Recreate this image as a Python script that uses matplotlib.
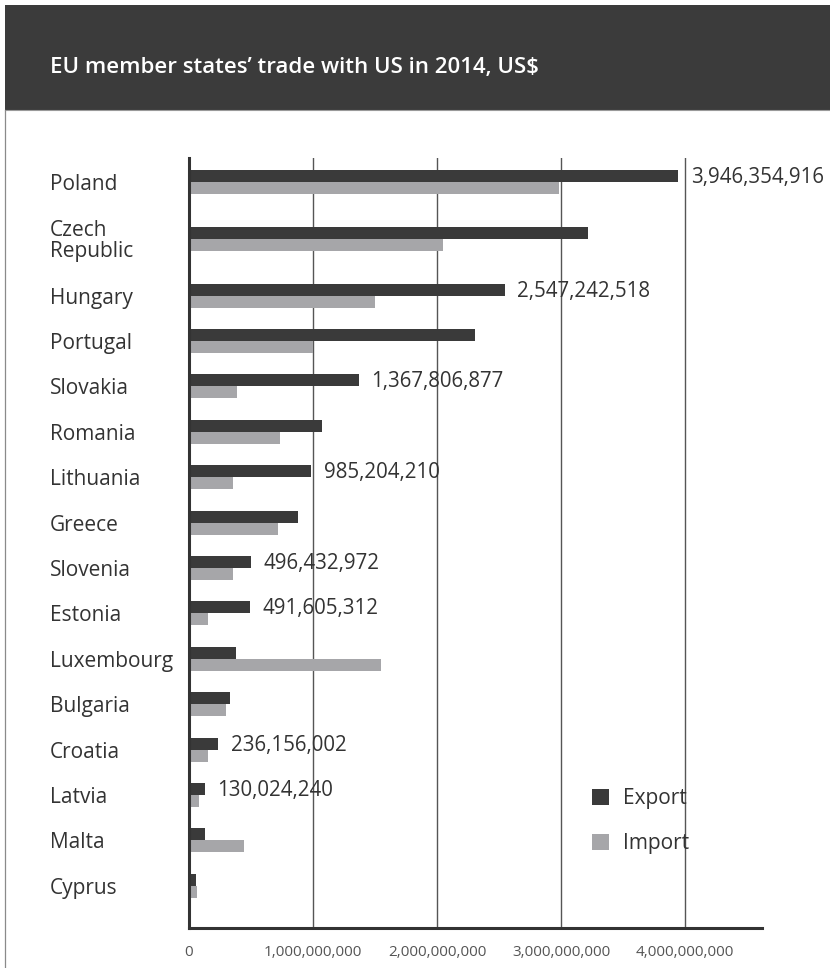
import matplotlib
matplotlib.use("Agg")
import matplotlib.pyplot as plt
import numpy as np
from matplotlib.patches import Rectangle
from matplotlib.lines import Line2D
from matplotlib.ticker import FuncFormatter, FixedLocator

# ---------------- data ----------------
countries = ["Poland", "Czech\nRepublic", "Hungary", "Portugal", "Slovakia",
             "Romania", "Lithuania", "Greece", "Slovenia", "Estonia",
             "Luxembourg", "Bulgaria", "Croatia", "Latvia", "Malta", "Cyprus"]
export_vals = [3946354916, 3.22e9, 2547242518, 2.31e9, 1367806877,
               1.07e9, 985204210, 0.88e9, 496432972, 491605312,
               0.38e9, 0.33e9, 236156002, 130024240, 0.13e9, 0.055e9]
import_vals = [2.98e9, 2.05e9, 1.50e9, 1.00e9, 0.39e9,
               0.73e9, 0.355e9, 0.72e9, 0.355e9, 0.15e9,
               1.55e9, 0.30e9, 0.15e9, 0.083e9, 0.44e9, 0.065e9]
show_label = [True, False, True, False, True, False, True, False,
              True, True, False, False, True, True, False, False]
x_ticks = [0, 1e9, 2e9, 3e9, 4e9]
title = "EU member states\u2019 trade with US in 2014, US$"
series_names = ["Export", "Import"]

# ---------------- style ----------------
FONT = "Open Sans"
DARK = "#3a3a3a"
LIGHT = "#a6a6a9"
TXT = "#333333"

W, H = 830, 968
fig = plt.figure(figsize=(W / 100, H / 100), dpi=100)
fig.patch.set_facecolor("white")

def fx(px):
    return px / W

def fy(py):
    return 1 - py / H

# header band
fig.patches.append(Rectangle((fx(5), fy(110)), 1 - fx(5), fy(5) - fy(110),
                             transform=fig.transFigure, facecolor="#3b3b3b",
                             edgecolor="none", zorder=0))
fig.lines.append(Line2D([fx(5), 1], [fy(110), fy(110)], transform=fig.transFigure,
                        color="#9a9a9a", lw=0.8))
fig.lines.append(Line2D([fx(5), fx(5)], [fy(110), 0], transform=fig.transFigure,
                        color="#8a8a8a", lw=0.9))
fig.text(fx(50), fy(68), title, color="white", fontsize=16, family=FONT,
         fontweight="semibold", ha="left", va="center")

# axes
ax_left, ax_right, ax_top, ax_bottom = 189, 762, 158, 928
ax = fig.add_axes([fx(ax_left), fy(ax_bottom), fx(ax_right) - fx(ax_left),
                   fy(ax_top) - fy(ax_bottom)])

# category positions: rows with multi-line labels get extra room
n_lines = [c.count("\n") + 1 for c in countries]
gaps = [1 + 0.25 * (n_lines[i] - 1) + 0.25 * (n_lines[i + 1] - 1)
        for i in range(len(countries) - 1)]
pos = np.concatenate([[0], np.cumsum(gaps)])

h = 0.265
ax.barh(pos - h, export_vals, height=h, align="edge", color=DARK,
        label=series_names[0], zorder=3)
ax.barh(pos, import_vals, height=h, align="edge", color=LIGHT,
        label=series_names[1], zorder=3)

ax.set_ylim(pos[-1] + 0.93, -0.53)
ax.set_xlim(0, (ax_right - ax_left) / 124 * 1e9)

# data labels
for p, v, s in zip(pos, export_vals, show_label):
    if s:
        ax.annotate(f"{v:,.0f}", xy=(v, p - 0.1), xytext=(9, 0),
                    textcoords="offset points", ha="left", va="center",
                    fontsize=14.8, color=TXT, family=FONT, zorder=4,
                    annotation_clip=False)

# y labels
ax.set_yticks(pos)
ax.set_yticklabels(countries, fontsize=15, color=TXT, family=FONT,
                   linespacing=0.95)
for lab in ax.get_yticklabels():
    lab.set_ha("left")
ax.tick_params(axis="y", length=0, pad=(ax_left - 50) * 0.72)

# x axis
ax.xaxis.set_major_locator(FixedLocator(x_ticks))
ax.xaxis.set_major_formatter(FuncFormatter(lambda x, _: f"{x:,.0f}"))
ax.tick_params(axis="x", length=0, pad=12, labelsize=11, labelcolor="#555555")
for lab in ax.get_xticklabels():
    lab.set_family(FONT)
ax.grid(axis="x", color="#555555", lw=1.0, zorder=1)
ax.set_axisbelow(True)

for side in ["top", "right"]:
    ax.spines[side].set_visible(False)
for side in ["left", "bottom"]:
    ax.spines[side].set_linewidth(2.2)
    ax.spines[side].set_color("#333333")
    ax.spines[side].set_zorder(5)

leg = ax.legend(loc="upper left", bbox_to_anchor=(fx(592), fy(788)),
                bbox_transform=fig.transFigure, frameon=False,
                prop={"family": FONT, "size": 15}, handlelength=0.8,
                handleheight=0.8, handletextpad=0.7, labelspacing=1.15,
                borderpad=0, borderaxespad=0)
for t in leg.get_texts():
    t.set_color(TXT)

fig.savefig("out.png", dpi=100)
